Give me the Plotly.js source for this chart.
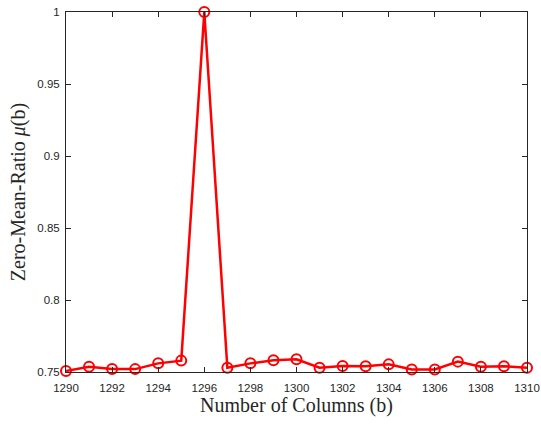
<!DOCTYPE html>
<html><head><meta charset="utf-8">
<script src="https://cdn.plot.ly/plotly-3.0.1.min.js"></script>
<style>html,body{margin:0;padding:0;background:#fff}#chart{width:541px;height:424px}</style>
</head><body><div id="chart"></div>
<script>
var columns = [1290,1291,1292,1293,1294,1295,1296,1297,1298,1299,1300,1301,1302,1303,1304,1305,1306,1307,1308,1309,1310];
var ratio = [0.7507,0.7537,0.7521,0.7520,0.7560,0.7579,1.0,0.7530,0.7560,0.7581,0.7588,0.7530,0.7542,0.7540,0.7553,0.7518,0.7518,0.7572,0.7537,0.7540,0.7530];
var xTicks = [1290,1292,1294,1296,1298,1300,1302,1304,1306,1308,1310];
var yTicks = [0.75,0.8,0.85,0.9,0.95,1];
var yTickText = ['0.75','0.8','0.85','0.9','0.95','1'];

var trace = {
  x: columns, y: ratio, type: 'scatter', mode: 'lines+markers',
  line: {color: '#ff0000', width: 2.5},
  marker: {symbol: 'circle-open', size: 10, color: '#ff0000', line: {color: '#ff0000', width: 2}},
  cliponaxis: false, hoverinfo: 'skip'
};
var axisCommon = {
  showline: true, mirror: 'ticks', linecolor: '#262626', linewidth: 1,
  ticks: 'inside', ticklen: 5, tickcolor: '#262626', tickwidth: 1,
  showgrid: false, zeroline: false,
  tickfont: {family: 'Liberation Sans, Arial, sans-serif', size: 11.5, color: '#262626'}
};
var layout = {
  width: 541, height: 424,
  margin: {l: 66, r: 14, t: 12, b: 52},
  paper_bgcolor: '#fff', plot_bgcolor: '#fff',
  showlegend: false,
  xaxis: Object.assign({}, axisCommon, {
    range: [1290, 1310], tickvals: xTicks, ticktext: xTicks.map(String),
    ticklabelstandoff: 5,
    title: {text: 'Number of Columns (b)', standoff: 3,
      font: {family: 'Liberation Serif, Times New Roman, serif', size: 20, color: '#262626'}}
  }),
  yaxis: Object.assign({}, axisCommon, {
    range: [0.75, 1], tickvals: yTicks, ticktext: yTickText,
    ticklabelstandoff: 3,
    title: {text: 'Zero-Mean-Ratio <i>μ</i>(b)', standoff: 6,
      font: {family: 'Liberation Serif, Times New Roman, serif', size: 20, color: '#262626'}}
  })
};
Plotly.newPlot('chart', [trace], layout, {displayModeBar: false, staticPlot: true});
</script></body></html>
